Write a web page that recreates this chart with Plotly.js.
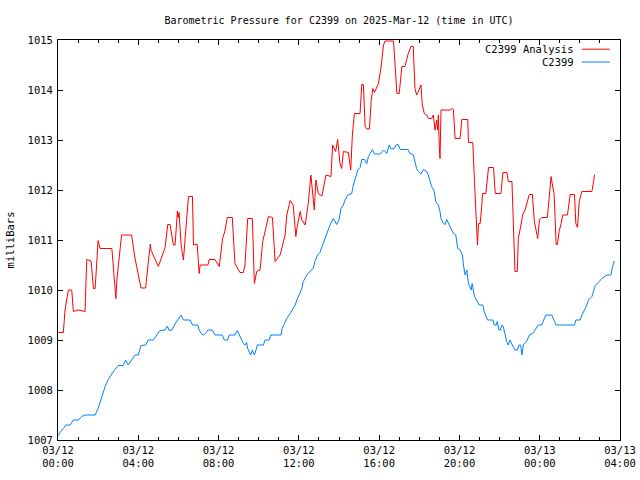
<!DOCTYPE html>
<html>
<head>
<meta charset="utf-8">
<script src="https://cdn.plot.ly/plotly-3.0.1.min.js"></script>
<style>html,body{margin:0;padding:0;background:#fff;}#chart{width:640px;height:480px;}</style>
</head>
<body>
<div id="chart"></div>
<script>
// Time offsets are minutes after 2025-03-12 00:00 UTC
const startDate = '2025-03-12';
const analysisMinutes = [1,16,21,31,41,46,60,81,82,86,99,106,111,120,123,126,161,173,176,190,220,230,248,262,269,276,278,300,320,328,335,345,350,357,359,362,368,375,390,402,405,416,422,425,448,452,469,482,492,499,506,521,529,544,554,559,567,581,587,594,604,612,621,629,641,649,664,679,684,694,703,711,714,724,729,739,748,756,766,771,778,789,801,816,821,830,836,843,848,853,868,873,875,880,886,903,908,913,918,923,931,936,941,946,953,958,966,973,978,1003,1008,1013,1020,1028,1037,1043,1047,1055,1062,1067,1072,1079,1085,1089,1095,1102,1107,1117,1122,1127,1132,1135,1137,1140,1142,1145,1172,1179,1182,1187,1202,1207,1225,1227,1240,1245,1250,1254,1257,1262,1267,1269,1279,1287,1302,1307,1324,1330,1342,1346,1357,1361,1364,1366,1373,1376,1384,1389,1396,1404,1409,1418,1424,1429,1434,1439,1446,1463,1468,1474,1478,1483,1486,1489,1493,1498,1504,1509,1523,1531,1544,1548,1553,1558,1566,1596,1601,1604];
const analysisValues = [1009.15,1009.15,1009.6,1010.0,1010.0,1009.57,1009.6,1009.57,1009.83,1010.61,1010.58,1010.03,1010.03,1010.99,1010.9,1010.83,1010.83,1009.83,1010.2,1011.1,1011.1,1010.64,1010.04,1010.04,1010.5,1010.92,1010.8,1010.47,1010.85,1011.31,1011.31,1010.9,1010.9,1011.58,1011.45,1011.55,1010.9,1010.6,1011.87,1011.87,1010.9,1010.92,1010.33,1010.5,1010.5,1010.61,1010.61,1010.47,1011.03,1011.18,1011.45,1011.45,1010.53,1010.35,1010.35,1010.5,1011.43,1011.43,1010.13,1010.37,1010.4,1010.97,1011.23,1011.47,1011.45,1010.57,1010.7,1011.1,1011.5,1011.79,1011.7,1011.07,1011.23,1011.57,1011.4,1011.3,1011.73,1012.3,1011.6,1012.2,1011.93,1011.88,1012.3,1012.27,1012.9,1012.77,1013.01,1012.53,1012.43,1012.77,1012.75,1012.5,1012.4,1013.1,1013.53,1013.53,1014.11,1014.11,1013.27,1013.22,1013.22,1013.77,1014.03,1013.95,1014.05,1014.13,1014.47,1014.9,1014.98,1014.98,1014.47,1013.93,1013.93,1014.47,1014.47,1014.63,1014.73,1014.87,1014.87,1014.03,1013.9,1014.0,1014.1,1013.7,1013.53,1013.5,1013.43,1013.43,1013.5,1013.2,1013.4,1013.2,1013.5,1012.83,1012.63,1013.6,1013.6,1013.63,1013.6,1013.03,1013.03,1013.41,1013.41,1012.95,1012.95,1012.17,1011.3,1010.9,1011.33,1011.33,1011.7,1011.93,1011.93,1012.45,1012.45,1011.93,1011.93,1012.35,1012.35,1012.17,1012.17,1011.27,1010.67,1010.37,1010.37,1011.03,1011.3,1011.5,1011.6,1011.8,1011.91,1011.91,1011.37,1011.2,1011.03,1011.4,1011.45,1011.45,1011.8,1012.27,1012.1,1011.93,1011.45,1010.91,1010.91,1011.17,1011.33,1011.5,1011.5,1011.91,1011.91,1011.33,1011.25,1011.77,1011.97,1011.97,1012.17,1012.31];
const stationMinutes = [1,6,16,24,36,46,61,71,81,111,120,131,141,150,161,170,180,195,202,210,220,230,240,248,262,270,285,295,305,320,327,332,341,348,358,368,375,395,402,418,422,428,434,441,448,461,469,491,497,507,512,529,536,542,549,554,559,564,567,572,576,581,587,592,596,614,619,631,636,667,670,677,684,694,703,709,714,721,729,733,744,753,763,768,776,783,791,798,806,813,823,833,840,846,853,858,866,878,883,888,896,903,908,916,923,928,933,940,946,963,973,983,990,996,1005,1011,1017,1023,1046,1052,1062,1067,1072,1077,1085,1092,1102,1107,1112,1117,1125,1129,1137,1142,1145,1152,1157,1162,1172,1182,1189,1195,1202,1209,1212,1217,1222,1227,1235,1238,1245,1252,1259,1262,1270,1274,1284,1300,1304,1310,1313,1318,1322,1327,1331,1336,1341,1346,1351,1358,1366,1373,1378,1383,1387,1391,1394,1401,1409,1419,1426,1436,1446,1451,1458,1476,1483,1489,1544,1548,1561,1566,1576,1586,1596,1606,1615,1626,1641,1653,1657,1663];
const stationValues = [1007.09,1007.15,1007.23,1007.3,1007.3,1007.4,1007.4,1007.47,1007.5,1007.5,1007.63,1007.87,1008.07,1008.21,1008.33,1008.41,1008.49,1008.49,1008.6,1008.5,1008.6,1008.7,1008.7,1008.89,1008.9,1009.0,1009.0,1009.1,1009.19,1009.2,1009.28,1009.19,1009.2,1009.3,1009.4,1009.5,1009.4,1009.4,1009.3,1009.3,1009.2,1009.13,1009.1,1009.13,1009.2,1009.2,1009.1,1009.1,1009.0,1009.0,1009.1,1009.1,1009.19,1009.1,1009.0,1008.93,1008.9,1008.95,1008.83,1008.77,1008.7,1008.8,1008.7,1008.8,1008.9,1008.9,1009.0,1009.0,1009.1,1009.1,1009.23,1009.33,1009.43,1009.53,1009.63,1009.7,1009.8,1009.91,1010.03,1010.17,1010.3,1010.37,1010.43,1010.57,1010.7,1010.75,1010.9,1011.0,1011.17,1011.3,1011.43,1011.31,1011.4,1011.63,1011.7,1011.8,1011.9,1011.93,1012.1,1012.23,1012.4,1012.45,1012.61,1012.61,1012.53,1012.67,1012.73,1012.81,1012.72,1012.72,1012.8,1012.73,1012.9,1012.82,1012.83,1012.9,1012.91,1012.81,1012.81,1012.73,1012.71,1012.57,1012.43,1012.37,1012.32,1012.41,1012.37,1012.3,1012.17,1012.07,1011.97,1011.77,1011.7,1011.57,1011.43,1011.33,1011.31,1011.41,1011.27,1011.13,1011.1,1010.83,1010.8,1010.7,1010.5,1010.3,1010.4,1010.13,1010.0,1010.13,1009.87,1009.77,1009.7,1009.7,1009.7,1009.57,1009.4,1009.4,1009.3,1009.3,1009.37,1009.2,1009.2,1009.3,1009.27,1009.13,1008.97,1008.9,1009.0,1008.9,1008.8,1008.8,1008.9,1008.9,1008.7,1008.9,1008.93,1008.97,1009.1,1009.13,1009.2,1009.3,1009.3,1009.4,1009.5,1009.5,1009.4,1009.3,1009.3,1009.4,1009.4,1009.5,1009.63,1009.8,1009.87,1010.09,1010.15,1010.23,1010.3,1010.3,1010.45,1010.58];
const seriesNames = ['C2399 Analysis', 'C2399'];
const xRange = ['2025-03-12 00:00', '2025-03-13 04:00'];
const yRange = [1007, 1015];

function toDate(m) {
  const d = new Date(Date.UTC(2025, 2, 12) + m * 60000);
  const p = n => String(n).padStart(2, '0');
  return d.getUTCFullYear() + '-' + p(d.getUTCMonth() + 1) + '-' + p(d.getUTCDate()) + ' ' + p(d.getUTCHours()) + ':' + p(d.getUTCMinutes());
}

const FONT = 'DejaVu Sans Mono, monospace';
const colors = ['#ff0000', '#0080ff'];

const traces = [
  {x: analysisMinutes.map(toDate), y: analysisValues, name: seriesNames[0], type: 'scatter', mode: 'lines',
   line: {color: colors[0], width: 1}, showlegend: false},
  {x: stationMinutes.map(toDate), y: stationValues, name: seriesNames[1], type: 'scatter', mode: 'lines',
   line: {color: colors[1], width: 1}, showlegend: false}
];

const layout = {
  width: 640, height: 480,
  margin: {l: 58, r: 20, t: 40, b: 40},
  paper_bgcolor: '#fff', plot_bgcolor: '#fff',
  font: {family: FONT, size: 10, color: '#000'},
  title: {text: 'Barometric Pressure for C2399 on 2025-Mar-12 (time in UTC)', xref: 'paper', x: 0.5, xanchor: 'center', yref: 'container', y: 0.958, yanchor: 'middle', font: {family: FONT, size: 10, color: '#000'}},
  xaxis: {
    type: 'date', range: xRange, showgrid: false, zeroline: false,
    showline: true, linecolor: '#000', linewidth: 1, mirror: 'allticks',
    ticks: 'inside', ticklen: 5, tickcolor: '#000',
    dtick: 4 * 3600000, tick0: '2025-03-12 00:00', tickformat: '%m/%d<br>%H:%M',
    tickfont: {family: FONT, size: 10.5, color: '#000'},
    minor: {dtick: 3600000, ticks: 'inside', ticklen: 3, tickcolor: '#000', showgrid: false},
    fixedrange: true
  },
  yaxis: {
    range: yRange, dtick: 1, showgrid: false, zeroline: false,
    showline: true, linecolor: '#000', linewidth: 1, mirror: 'allticks',
    ticks: 'inside', ticklen: 5, tickcolor: '#000', ticklabelstandoff: 2,
    tickfont: {family: FONT, size: 10.5, color: '#000'},
    title: {text: 'milliBars', font: {family: FONT, size: 10.5, color: '#000'}, standoff: 10},
    fixedrange: true
  },
  annotations: [
    {xref: 'paper', yref: 'paper', x: 0.922, y: 0.977, xanchor: 'right', yanchor: 'middle', text: seriesNames[0], showarrow: false, font: {family: FONT, size: 10.5, color: '#000'}},
    {xref: 'paper', yref: 'paper', x: 0.922, y: 0.945, xanchor: 'right', yanchor: 'middle', text: seriesNames[1], showarrow: false, font: {family: FONT, size: 10.5, color: '#000'}}
  ],
  shapes: [
    {type: 'line', xref: 'paper', yref: 'paper', x0: 0.932, x1: 0.982, y0: 0.977, y1: 0.977, line: {color: colors[0], width: 1}},
    {type: 'line', xref: 'paper', yref: 'paper', x0: 0.932, x1: 0.982, y0: 0.945, y1: 0.945, line: {color: colors[1], width: 1}}
  ]
};

Plotly.newPlot('chart', traces, layout, {displayModeBar: false, staticPlot: true});
</script>
</body>
</html>
